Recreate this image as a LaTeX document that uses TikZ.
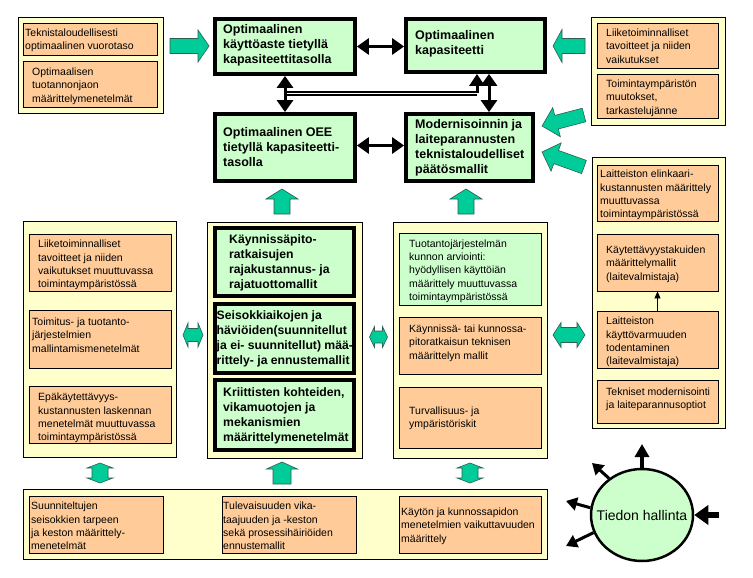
\documentclass[tikz,border=0pt]{standalone}
\usepackage{fontspec}
\setmainfont{Liberation Sans}
\usetikzlibrary{fit,arrows.meta,shapes.geometric}
\definecolor{ylw}{HTML}{FFFFCC}
\definecolor{org}{HTML}{FFCC99}
\definecolor{grn}{HTML}{CCFFCC}
\definecolor{garr}{HTML}{00CC99}
\definecolor{gdark}{HTML}{2F5F4F}
\tikzset{
 ybox/.style={draw=black, line width=0.9pt, fill=ylw, inner sep=0pt},
 obox/.style={draw=black, line width=0.9pt, fill=org, inner sep=0pt},
 gthin/.style={draw=black, line width=0.9pt, fill=grn, inner sep=0pt},
 gthick/.style={draw=black, line width=3.8pt, fill=grn, inner sep=0pt},
 stxt/.style={font=\fontsize{10.5}{13.3}\selectfont, align=left, inner sep=0pt, anchor=west},
 btxt/.style={font=\fontsize{12.5}{15}\selectfont\bfseries, align=left, inner sep=0pt, anchor=west},
 btxtm/.style={font=\fontsize{12.2}{14.8}\selectfont\bfseries, align=left, inner sep=0pt, anchor=west},
 garrow/.style={draw=gdark, line width=0.6pt, fill=garr, line join=miter},
 blkd/.style={line width=3pt, {Triangle[length=12pt,width=16pt]}-{Triangle[length=12pt,width=16pt]}},
 blks/.style={line width=3pt, -{Triangle[length=12pt,width=15pt]}},
 cirarr/.style={line width=3pt, -{Triangle[length=11pt,width=13pt]}}
}
\newcommand\mkbox[9]{%
 \node[#2, fit={(#4,#5)(#6,#7)}] (#1) {};
 \node[#3] (#1t) at #8 {#9};}
\newcommand\garrowone[6]{%
 \begin{scope}[shift={#1},rotate=#2]
 \draw[garrow] (0,-#4) -- ({#3-#6},-#4) -- ({#3-#6},-#5) -- (#3,0) -- ({#3-#6},#5) -- ({#3-#6},#4) -- (0,#4) -- cycle;
 \end{scope}}
\newcommand\garrowtwo[6]{%
 \begin{scope}[shift={#1},rotate=#2]
 \draw[garrow] (-#3/2,0) -- ({-#3/2+#6},#5) -- ({-#3/2+#6},#4) -- ({#3/2-#6},#4) -- ({#3/2-#6},#5) -- (#3/2,0) -- ({#3/2-#6},-#5) -- ({#3/2-#6},-#4) -- ({-#3/2+#6},-#4) -- ({-#3/2+#6},-#5) -- cycle;
 \end{scope}}
\begin{document}
\begin{tikzpicture}[x=1pt,y=-1pt]
\useasboundingbox (0,0) rectangle (753,578);
\fill[white] (0,0) rectangle (753,578);
% containers
\node[ybox, fit={(18,17)(163,113)}] (ytl) {};
\node[ybox, fit={(591,17)(725,125)}] (ytr) {};
\node[ybox, fit={(23,221)(176,457)}] (yl) {};
\node[ybox, fit={(207,222)(362,458)}] (ym) {};
\node[ybox, fit={(393,222)(547,458)}] (ymr) {};
\node[ybox, fit={(592,157)(725,428)}] (yr) {};
\node[ybox, fit={(23,489)(547,559)}] (yb) {};
% top left / right
\mkbox{o1}{obox}{stxt}{23}{23}{157}{55}{(25,40)}{Teknistaloudellisesti\\optimaalinen vuorotaso}
\mkbox{o2}{obox}{stxt}{23}{61}{157}{107}{(32,86)}{Optimaalisen\\tuotannonjaon\\määrittelymenetelmät}
\mkbox{o3}{obox}{stxt}{597}{23}{718}{68}{(606,46)}{Liiketoiminnalliset\\tavoitteet ja niiden\\vaikutukset}
\mkbox{o4}{obox}{stxt}{597}{74}{718}{118}{(606,98)}{Toimintaympäristön\\muutokset,\\tarkastelujänne}
% central thick boxes
\mkbox{A}{gthick}{btxt}{215}{19}{355}{74}{(223,45)}{Optimaalinen\\käyttöaste tietyllä\\kapasiteettitasolla}
\mkbox{B}{gthick}{btxt}{406}{19}{545}{72}{(415,44)}{Optimaalinen\\kapasiteetti}
\mkbox{C}{gthick}{btxt}{215}{114}{355}{181}{(223,147)}{Optimaalinen OEE\\tietyllä kapasiteetti-\\tasolla}
\mkbox{D}{gthick}{btxt}{406}{114}{533}{181}{(415,148)}{Modernisoinnin ja\\laiteparannusten\\teknistaloudelliset\\päätösmallit}
% middle column
\mkbox{m1}{gthick}{btxtm}{215}{228}{354}{296}{(229,263)}{Käynnissäpito-\\ratkaisujen\\rajakustannus- ja\\rajatuottomallit}
\mkbox{m2}{gthick}{btxtm}{215}{304}{354}{373}{(216.5,339)}{Seisokkiaikojen ja\\häviöiden(suunnitellut\\ja ei- suunnitellut) mää-\\rittely- ja ennustemallit}
\mkbox{m3}{gthick}{btxtm}{215}{380}{354}{450}{(223,416)}{Kriittisten kohteiden,\\vikamuotojen ja\\mekanismien\\määrittelymenetelmät}
% left column
\mkbox{l1}{obox}{stxt}{29}{234}{171}{291}{(38,265)}{Liiketoiminnalliset\\tavoitteet ja niiden\\vaikutukset muuttuvassa\\toimintaympäristössä}
\mkbox{l2}{obox}{stxt}{29}{310}{171}{368}{(32,335)}{Toimitus- ja tuotanto-\\järjestelmien\\mallintamismenetelmät}
\mkbox{l3}{obox}{stxt}{29}{386}{171}{443}{(38,418)}{Epäkäytettävyys-\\kustannusten laskennan\\menetelmät muuttuvassa\\toimintaympäristössä}
% mid-right column
\mkbox{mr1}{gthin}{stxt}{399}{233}{541}{305}{(409,271)}{Tuotantojärjestelmän\\kunnon arviointi:\\hyödyllisen käyttöiän\\määrittely muuttuvassa\\toimintaympäristössä}
\mkbox{mr2}{obox}{stxt}{399}{317}{541}{374}{(409,343)}{Käynnissä- tai kunnossa-\\pitoratkaisun teknisen\\määrittelyn mallit}
\mkbox{mr3}{obox}{stxt}{399}{387}{541}{448}{(409,418)}{Turvallisuus- ja\\ympäristöriskit}
% right column
\mkbox{r1}{obox}{stxt}{597}{165}{718}{221}{(600,195)}{Laitteiston elinkaari-\\kustannusten määrittely\\muuttuvassa\\toimintaympäristössä}
\mkbox{r2}{obox}{stxt}{597}{234}{718}{291}{(606,264)}{Käytettävyystakuiden\\määrittelymallit\\(laitevalmistaja)}
\mkbox{r3}{obox}{stxt}{597}{311}{718}{368}{(606,342)}{Laitteiston\\käyttövarmuuden\\todentaminen\\(laitevalmistaja)}
\mkbox{r4}{obox}{stxt}{597}{380}{718}{423}{(606,399)}{Tekniset modernisointi\\ja laiteparannusoptiot}
% bottom row
\mkbox{b1}{obox}{stxt}{29}{496}{163}{553}{(31,526)}{Suunniteltujen\\seisokkien tarpeen\\ja keston määrittely-\\menetelmät}
\mkbox{b2}{obox}{stxt}{222}{496}{356}{553}{(223,526)}{Tulevaisuuden vika-\\taajuuden ja -keston\\sekä prosessihäiriöiden\\ennustemallit}
\mkbox{b3}{obox}{stxt}{399}{496}{541}{553}{(401,526)}{Käytön ja kunnossapidon\\menetelmien vaikuttavuuden\\määrittely}
% green block arrows
\garrowone{(170,46)}{0}{39}{7.5}{16}{11}
\garrowone{(585,46)}{180}{32}{7.5}{16.5}{9}
\garrowone{(584,115)}{194.7}{43.4}{7}{15}{15}
\garrowone{(584,167)}{160.3}{44.6}{7}{15}{15}
\garrowone{(282,214)}{90}{25}{8}{16}{10}
\garrowone{(466,214)}{90}{25}{8}{16}{10}
\garrowone{(282,484)}{90}{22}{9}{15.5}{7}
\garrowtwo{(193,335)}{0}{20}{6.5}{12}{5}
\garrowtwo{(378.5,337)}{0}{18}{6}{10.5}{5}
\garrowtwo{(569,335)}{0}{32}{7.5}{12.5}{8}
\garrowtwo{(100,473)}{90}{20}{8}{13}{5}
\garrowtwo{(470,473)}{90}{20}{8}{13}{5}
% black connectors between central boxes
\draw[blkd] (A.east) -- (A.east -| B.west);
\draw[blkd] ([yshift=2pt]C.east) -- ([yshift=2pt]C.east -| D.west);
\coordinate (j1) at (285,93.5);
\coordinate (j2) at (477,93.5);
\draw[line width=1.6pt, double distance=0.9pt] (j1) -- (j2);
\draw[blkd] (A.south) -- (C.north);
\draw[blks] (j2) -- (j2 |- B.south);
\coordinate (bd) at (489,95);
\draw[blkd] (bd |- B.south) -- (bd |- D.north);
% thin arrow in right column
\draw[line width=0.8pt, -{Triangle[length=7pt,width=6pt]}] (r3.north) -- (r2.south);
% Tiedon hallinta
\node[ellipse, draw, line width=2.5pt, fill=grn, minimum width=102pt, minimum height=92pt, inner sep=0pt] (th) at (642,515) {};
\node[font=\fontsize{14}{16}\selectfont, inner sep=0pt] (tht) at (th.center) {Tiedon hallinta};
\coordinate (tu) at (642,444);
\coordinate (tul) at (592,463);
\coordinate (tl) at (566,501);
\coordinate (tll) at (566,546);
\coordinate (tr) at (719,515);
\draw[line width=4pt, -{Triangle[length=13pt,width=14pt]}] (th.north) -- (tu);
\draw[cirarr] (th.132) -- (tul);
\draw[cirarr] (th.172) -- (tl);
\draw[cirarr] (th.200) -- (tll);
\draw[line width=6pt, -{Triangle[length=14pt,width=19pt]}] (tr) -- (th.east);
\end{tikzpicture}
\end{document}
